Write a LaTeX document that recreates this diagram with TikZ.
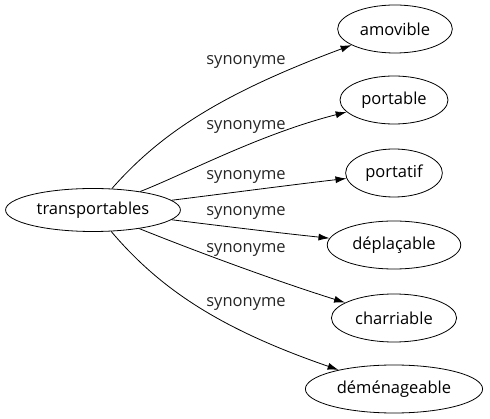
\documentclass[tikz,border=0pt]{standalone}
\usepackage{fontspec}
\setmainfont{Open Sans}
\usetikzlibrary{arrows,arrows.meta,shapes}

\begin{document}
\begin{tikzpicture}[>={Latex[length=11bp,width=7bp]}, line width=0.8bp]
      \tikzstyle{every node}=[font=\fontsize{16.5bp}{19bp}\selectfont]
      \tikzstyle{word}=[draw,ellipse,inner xsep=5.5bp,inner ysep=2bp,minimum height=48bp]
      \tikzstyle{rel}=[draw=none,text=black!85]
      \useasboundingbox (0bp,0bp) rectangle (490bp,419bp);
      %%
  \node (w_src) at (93bp,209bp) [word,minimum height=43bp] {transportables};
  \node (w_1) at (395bp,390bp) [word] {amovible};
  \node (w_2) at (394bp,319bp) [word] {portable};
  \node (w_3) at (394bp,246bp) [word] {portatif};
  \node (w_4) at (394bp,174bp) [word] {déplaçable};
  \node (w_5) at (394bp,101bp) [word] {charriable};
  \node (w_6) at (394bp,30bp) [word] {déménageable};
  \node (l_1) at (246bp,357bp) [rel] {synonyme};
  \node (l_2) at (246bp,292bp) [rel] {synonyme};
  \node (l_3) at (246bp,242bp) [rel] {synonyme};
  \node (l_4) at (246bp,206bp) [rel] {synonyme};
  \node (l_5) at (246bp,169bp) [rel] {synonyme};
  \node (l_6) at (246bp,115bp) [rel] {synonyme};
  \draw [->] (w_src) ..controls (160bp,285bp) and (220bp,325bp)  .. (w_1);
  \draw [->] (w_src) ..controls (185bp,245bp) and (260bp,285bp)  .. (w_2);
  \draw [->] (w_src) ..controls (230bp,226bp) and (290bp,234bp)  .. (w_3);
  \draw [->] (w_src) ..controls (230bp,192bp) and (280bp,186bp)  .. (w_4);
  \draw [->] (w_src) ..controls (190bp,170bp) and (270bp,140bp)  .. (w_5);
  \draw [->] (w_src) ..controls (160bp,130bp) and (220bp,90bp)  .. (w_6);
%
\end{tikzpicture}
\end{document}
